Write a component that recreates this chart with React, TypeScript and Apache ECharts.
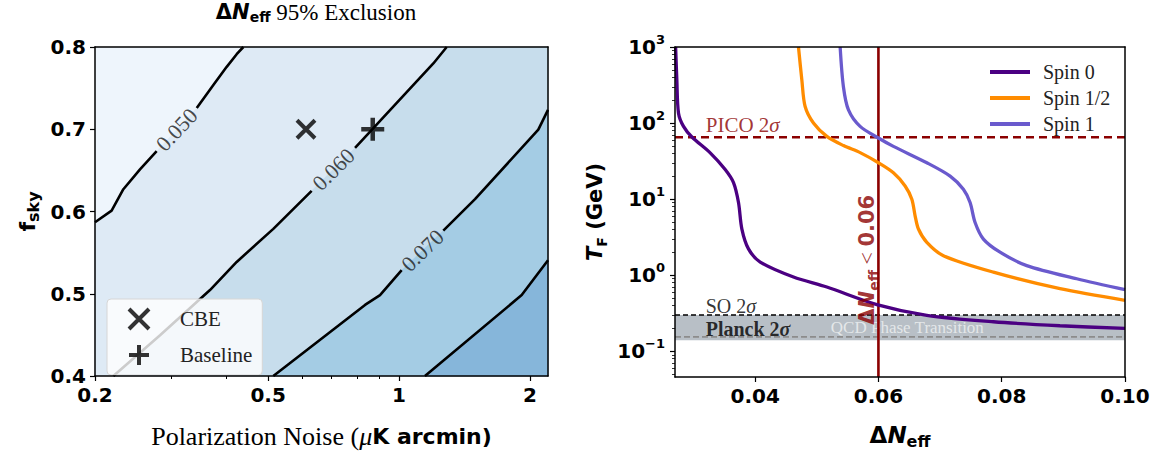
import React, { useEffect, useRef } from "react";
import * as echarts from "echarts";

const SANS = '"DejaVu Sans", sans-serif';
const SERIF = '"Liberation Serif", "DejaVu Serif", serif';
const L = (v: number) => Math.log10(v);

// ---------- Left panel data ----------
const noiseRange = [0.2, 2.2];
const fskyRange = [0.4, 0.8];
const noiseTicks = [0.2, 0.5, 1, 2];
const noiseMinorTicks = [0.3, 0.4, 0.6, 0.7, 0.8, 0.9];
const fskyTicks = [0.4, 0.5, 0.6, 0.7, 0.8];

const contourLevels = ["0.050", "0.060", "0.070", "0.080"];
const contour050 = [[0.4386, 0.8], [0.4234, 0.7912], [0.4016, 0.7759], [0.3742, 0.7538], [0.3427, 0.7257], [0.2772, 0.6733], [0.2538, 0.6513], [0.2324, 0.6271], [0.2184, 0.601], [0.2, 0.5869]];
const contour060 = [[1.287, 0.8], [1.199, 0.78], [0.8697, 0.7004], [0.7922, 0.6774], [0.6296, 0.6251], [0.514, 0.5789], [0.4234, 0.5387], [0.3676, 0.5045], [0.2822, 0.4495], [0.2204, 0.4]];
const contour070 = [[2.2, 0.7236], [2.09, 0.6995], [1.495, 0.615], [1.264, 0.5768], [1.014, 0.5286], [0.9042, 0.4984], [0.8352, 0.4864], [0.514, 0.4]];
const contour080 = [[2.2, 0.5407], [1.914, 0.4984], [1.147, 0.4]];
const contourLabelGap = [4, 3, 3, -1];
const contourLabelAt = [[0.3083, 0.6995], [0.7065, 0.6513], [1.132, 0.5527]];
const contourLabelAngle = [47, 45, 44];
const regionColors = ["#eef5fc", "#deeaf5", "#c7ddec", "#a4cce4", "#86b6da"];
const cbePoint = [0.611, 0.7];
const baselinePoint = [0.87, 0.7];

// ---------- Right panel data ----------
const dNRange = [0.027, 0.1];
const tfRange = [0.046, 1000];
const dNTicks = [0.04, 0.06, 0.08, 0.1];
const tfTicks = [0.1, 1, 10, 100, 1000];
const tfMinorTicks = [0.05, 0.06, 0.07, 0.08, 0.09, 0.2, 0.3, 0.4, 0.5, 0.6, 0.7, 0.8, 0.9, 2, 3, 4, 5, 6, 7, 8, 9, 20, 30, 40, 50, 60, 70, 80, 90, 200, 300, 400, 500, 600, 700, 800, 900];
const spinNames = ["Spin 0", "Spin 1/2", "Spin 1"];
const spinColors = ["#4b0082", "#ff8c00", "#6a5acd"];
const spin0 = [[0.0271, 1000], [0.0273, 367], [0.02757, 135], [0.02838, 90.4], [0.02974, 65.6], [0.03271, 40.6], [0.03514, 24.5], [0.03649, 16.5], [0.0373, 9.04], [0.03785, 4.05], [0.03892, 2.22], [0.04082, 1.49], [0.04622, 0.947], [0.05163, 0.7], [0.05974, 0.412], [0.06785, 0.298], [0.07865, 0.245], [0.08946, 0.217], [0.1, 0.2]];
const spinHalf = [[0.04703, 1000], [0.04758, 367], [0.04811, 165], [0.04946, 100], [0.05163, 66.8], [0.05434, 50.6], [0.05703, 40.9], [0.06, 30.1], [0.06243, 22.2], [0.06433, 14.9], [0.06542, 9.97], [0.06595, 6.04], [0.06649, 4.05], [0.06785, 2.71], [0.07054, 1.81], [0.07865, 1.1], [0.08946, 0.667], [0.1, 0.469]];
const spin1 = [[0.05379, 1000], [0.05432, 301], [0.05514, 149], [0.05703, 90.4], [0.06, 63.7], [0.06243, 49.4], [0.06785, 30.1], [0.07163, 20.1], [0.07378, 13.5], [0.07487, 9.04], [0.07568, 4.94], [0.07703, 2.99], [0.07973, 2.01], [0.08406, 1.34], [0.09217, 0.9], [0.1, 0.647]];
const picoLimit = 65;
const soLimit = 0.3;
const planckLimit = 0.155;
const qcdBand = [0.14, 0.3];
const dNBound = 0.06;
const picoText = [0.0319, 93];
const soText = [0.0319, 0.395];
const planckText = [0.0319, 0.198];
const qcdText = [0.0522, 0.205];
const boundText = [0.0581, 1.6];

const lx = (p: number[]) => [L(p[0]), p[1]];
const ry = (p: number[]) => [p[0], L(p[1])];

function buildOption(): any {
  const contours = [contour050, contour060, contour070, contour080];
  const [xLo, xHi] = noiseRange;
  const [yLo, yHi] = fskyRange;
  const regionPolys = [
    [[xLo, yHi], [xHi, yHi], [xHi, yLo], [xLo, yLo]],
    [...contour050, [xLo, yLo], [xHi, yLo], [xHi, yHi]],
    [...contour060, [xHi, yLo], [xHi, yHi]],
    [...contour070, [xHi, yLo]],
    [...contour080, [xHi, yLo]],
  ];

  const frameLine = { show: true, onZero: false, lineStyle: { color: "#000", width: 1.5 } };
  const tickLabel = { fontFamily: SANS, fontWeight: "bold", fontSize: 20, color: "#000" };
  const sub = (fs: number, extra: any = {}) => ({ fontFamily: SANS, fontWeight: "bold", fontSize: fs, lineHeight: 28, verticalAlign: "bottom", color: "#000", ...extra });
  const main = (fs: number, extra: any = {}) => ({ fontFamily: SANS, fontWeight: "bold", fontSize: fs, lineHeight: 28, verticalAlign: "middle", color: "#000", ...extra });

  const series: any[] = [];

  // Left: filled contour regions
  series.push({
    type: "custom",
    xAxisIndex: 0,
    yAxisIndex: 0,
    z: 1,
    silent: true,
    data: regionPolys.map((poly, i) => [L(poly[0][0]), poly[0][1], i]),
    encode: { x: 0, y: 1 },
    renderItem: (params: any, api: any) => {
      const i = params.dataIndex;
      const pts = regionPolys[i].map((p) => api.coord([L(p[0]), p[1]]));
      return { type: "polygon", shape: { points: pts }, style: { fill: regionColors[i], stroke: regionColors[i], lineWidth: 0.5 } };
    },
  });

  // Left: contour lines (split at inline labels)
  contours.forEach((c, k) => {
    const g = contourLabelGap[k];
    const parts = g >= 0 ? [c.slice(0, g + 1), c.slice(g + 1)] : [c];
    parts.forEach((part) => {
      series.push({
        type: "line",
        xAxisIndex: 0,
        yAxisIndex: 0,
        z: 3,
        silent: true,
        symbol: "none",
        data: part.map(lx),
        lineStyle: { color: "#000", width: 2.6 },
      });
    });
  });

  // Left: contour labels
  series.push({
    type: "scatter",
    xAxisIndex: 0,
    yAxisIndex: 0,
    z: 4,
    silent: true,
    symbolSize: 1,
    itemStyle: { color: "rgba(0,0,0,0)" },
    data: contourLabelAt.map((p, i) => ({
      value: lx(p),
      label: {
        show: true,
        position: "inside",
        formatter: contourLevels[i],
        rotate: contourLabelAngle[i],
        fontFamily: SERIF,
        fontSize: 22,
        color: "#1a1a1a",
      },
    })),
  });

  // Left: markers
  series.push({
    name: "CBE",
    type: "scatter",
    xAxisIndex: 0,
    yAxisIndex: 0,
    z: 5,
    symbol: "path://M0,0L10,10M10,0L0,10",
    symbolSize: 18,
    itemStyle: { color: "#000", borderColor: "#000", borderWidth: 4 },
    data: [lx(cbePoint)],
  });
  series.push({
    name: "Baseline",
    type: "scatter",
    xAxisIndex: 0,
    yAxisIndex: 0,
    z: 5,
    symbol: "path://M5,0L5,10M0,5L10,5",
    symbolSize: 23,
    itemStyle: { color: "#000", borderColor: "#000", borderWidth: 4.5 },
    data: [lx(baselinePoint)],
  });

  // Right: QCD band
  series.push({
    type: "custom",
    xAxisIndex: 3,
    yAxisIndex: 2,
    z: 1,
    silent: true,
    data: [[dNRange[0], L(qcdBand[0])]],
    encode: { x: 0, y: 1 },
    renderItem: (params: any, api: any) => {
      const a = api.coord([dNRange[0], L(qcdBand[1])]);
      const b = api.coord([dNRange[1], L(qcdBand[0])]);
      return { type: "rect", shape: { x: a[0], y: a[1], width: b[0] - a[0], height: b[1] - a[1] }, style: { fill: "#b8bfc6" } };
    },
  });

  const hLine = (y: number, color: string, width: number, dash: number[]) => ({
    type: "line",
    xAxisIndex: 3,
    yAxisIndex: 2,
    z: 2,
    silent: true,
    symbol: "none",
    data: [ry([dNRange[0], y]), ry([dNRange[1], y])],
    lineStyle: { color, width, type: dash },
  });
  series.push(hLine(planckLimit, "#8c8c8c", 1.6, [6, 3]));
  series.push(hLine(soLimit, "#000", 1.6, [5, 3]));
  series.push(hLine(picoLimit, "#8b0000", 2.6, [8, 5]));

  // Right: texts
  const txt = (p: number[], label: any) => ({ value: ry(p), label: { show: true, ...label } });
  const serifRich = (fs: number, color: string, weight: string) => ({
    n: { fontFamily: SERIF, fontSize: fs, lineHeight: fs, fontWeight: weight, color },
    i: { fontFamily: SERIF, fontStyle: "italic", fontSize: fs, lineHeight: fs, fontWeight: weight, color },
  });
  series.push({
    type: "scatter",
    xAxisIndex: 3,
    yAxisIndex: 2,
    z: 2,
    silent: true,
    symbolSize: 1,
    itemStyle: { color: "rgba(0,0,0,0)" },
    data: [
      txt(picoText, { position: "right", distance: 0, formatter: "{n|PICO 2}{i|σ}", rich: serifRich(21, "#8b0000", "normal") }),
      txt(soText, { position: "right", distance: 0, formatter: "{n|SO 2}{i|σ}", rich: serifRich(20, "#000", "normal") }),
      txt(planckText, { position: "right", distance: 0, formatter: "{n|Planck 2}{i|σ}", rich: serifRich(20, "#000", "bold") }),
      txt(qcdText, {
        position: "right", distance: 0, formatter: "QCD Phase Transition",
        fontFamily: SERIF, fontSize: 17, lineHeight: 17, color: "rgba(255,255,255,0.8)",
      }),
    ],
  });

  // Right: vertical bound
  series.push({
    type: "line",
    xAxisIndex: 3,
    yAxisIndex: 2,
    z: 3,
    silent: true,
    symbol: "none",
    data: [[dNBound, L(tfRange[0])], [dNBound, L(tfRange[1])]],
    lineStyle: { color: "#8b0000", width: 2.6 },
  });

  // Right: spin curves
  [spin0, spinHalf, spin1].forEach((d, i) => {
    series.push({
      name: spinNames[i],
      type: "line",
      xAxisIndex: 3,
      yAxisIndex: 2,
      z: 4,
      symbol: "none",
      smooth: 0.3,
      data: d.map(ry),
      itemStyle: { color: spinColors[i] },
      lineStyle: { color: spinColors[i], width: 3.3 },
    });
  });

  // Right: rotated bound label
  series.push({
    type: "scatter",
    xAxisIndex: 3,
    yAxisIndex: 2,
    z: 5,
    silent: true,
    symbolSize: 1,
    itemStyle: { color: "rgba(0,0,0,0)" },
    data: [
      txt(boundText, {
        position: "inside",
        rotate: 90,
        formatter: "{d|Δ}{n|N}{s|eff}{r| < }{d|0.06}",
        rich: {
          d: main(21, { color: "#8b0000" }),
          n: main(21, { color: "#8b0000", fontStyle: "italic" }),
          s: sub(14, { color: "#8b0000" }),
          r: main(22, { color: "#8b0000", fontFamily: SERIF, fontWeight: "normal" }),
        },
      }),
    ],
  });

  const baseAxis = { splitLine: { show: false }, z: 10 };

  return {
    animation: false,
    backgroundColor: "#fff",
    title: {
      left: 316,
      top: 0,
      padding: 0,
      textAlign: "center",
      text: "{d|Δ}{n|N}{s|eff}{r| 95% Exclusion}",
      textStyle: {
        rich: {
          d: main(21, { lineHeight: 24 }),
          n: main(21, { lineHeight: 24, fontStyle: "italic" }),
          s: sub(14, { lineHeight: 24 }),
          r: main(23, { lineHeight: 24, fontFamily: SERIF, fontWeight: "normal" }),
        },
      },
    },
    legend: [
      {
        data: ["CBE", "Baseline"],
        orient: "vertical",
        left: 107,
        top: 299,
        padding: [8, 10, 8, 20],
        itemWidth: 20,
        itemHeight: 20,
        itemGap: 12,
        backgroundColor: "rgba(255,255,255,0.8)",
        borderColor: "#d6d6d6",
        borderWidth: 1,
        borderRadius: 4,
        selectedMode: false,
        itemStyle: { color: "#000", borderColor: "#000", borderWidth: 4 },
        textStyle: { fontFamily: SERIF, fontSize: 21, color: "#222", padding: [0, 0, 0, 26] },
      },
      {
        data: spinNames,
        orient: "vertical",
        left: 990,
        top: 62,
        padding: 0,
        icon: "rect",
        itemWidth: 40,
        itemHeight: 4,
        itemGap: 6,
        selectedMode: false,
        itemStyle: { borderWidth: 0 },
        textStyle: { fontFamily: SERIF, fontSize: 20, color: "#222", lineHeight: 20, padding: [0, 0, 0, 8] },
      },
    ],
    grid: [
      { left: 95, top: 47, width: 453, height: 331, containLabel: false },
      { left: 675, top: 47, width: 450, height: 331, containLabel: false },
    ],
    xAxis: [
      {
        ...baseAxis,
        gridIndex: 0,
        type: "value",
        position: "bottom",
        min: L(noiseRange[0]),
        max: L(noiseRange[1]),
        axisLine: frameLine,
        axisTick: { show: true, customValues: noiseTicks.map(L), length: 5, lineStyle: { color: "#000", width: 1.2 } },
        axisLabel: {
          ...tickLabel,
          margin: 9,
          customValues: noiseTicks.map(L),
          formatter: (v: number) => String(parseFloat(Math.pow(10, v).toPrecision(3))),
        },
        name: "{r|Polarization Noise (}{m|μ}{b|K arcmin)}",
        nameLocation: "middle",
        nameGap: 46,
        nameTextStyle: {
          rich: {
            r: main(26, { fontFamily: SERIF, fontWeight: "normal" }),
            m: main(26, { fontFamily: SERIF, fontWeight: "normal", fontStyle: "italic" }),
            b: main(22),
          },
        },
      },
      {
        ...baseAxis,
        gridIndex: 0,
        type: "value",
        position: "bottom",
        min: L(noiseRange[0]),
        max: L(noiseRange[1]),
        axisLine: { show: false, onZero: false },
        axisTick: { show: true, customValues: noiseMinorTicks.map(L), length: 3, lineStyle: { color: "#000", width: 1 } },
        axisLabel: { show: false },
      },
      {
        ...baseAxis,
        gridIndex: 0,
        type: "value",
        position: "top",
        min: L(noiseRange[0]),
        max: L(noiseRange[1]),
        axisLine: frameLine,
        axisTick: { show: false },
        axisLabel: { show: false },
      },
      {
        ...baseAxis,
        gridIndex: 1,
        type: "value",
        position: "bottom",
        min: dNRange[0],
        max: dNRange[1],
        axisLine: frameLine,
        axisTick: { show: true, customValues: dNTicks, length: 5, lineStyle: { color: "#000", width: 1.2 } },
        axisLabel: { ...tickLabel, margin: 9, customValues: dNTicks, formatter: (v: number) => v.toFixed(2) },
        name: "{d|Δ}{n|N}{s|eff}",
        nameLocation: "middle",
        nameGap: 44,
        nameTextStyle: {
          rich: { d: main(23), n: main(23, { fontStyle: "italic" }), s: sub(16) },
        },
      },
      {
        ...baseAxis,
        gridIndex: 1,
        type: "value",
        position: "top",
        min: dNRange[0],
        max: dNRange[1],
        axisLine: frameLine,
        axisTick: { show: false },
        axisLabel: { show: false },
      },
    ],
    yAxis: [
      {
        ...baseAxis,
        gridIndex: 0,
        type: "value",
        position: "left",
        min: fskyRange[0],
        max: fskyRange[1],
        axisLine: frameLine,
        axisTick: { show: true, customValues: fskyTicks, length: 5, lineStyle: { color: "#000", width: 1.2 } },
        axisLabel: { ...tickLabel, margin: 9, customValues: fskyTicks, formatter: (v: number) => v.toFixed(1) },
        name: "{b|f}{s|sky}",
        nameLocation: "middle",
        nameGap: 54,
        nameTextStyle: { rich: { b: main(22), s: sub(16) } },
      },
      {
        ...baseAxis,
        gridIndex: 0,
        type: "value",
        position: "right",
        min: fskyRange[0],
        max: fskyRange[1],
        axisLine: frameLine,
        axisTick: { show: false },
        axisLabel: { show: false },
      },
      {
        ...baseAxis,
        gridIndex: 1,
        type: "value",
        position: "left",
        min: L(tfRange[0]),
        max: L(tfRange[1]),
        axisLine: frameLine,
        axisTick: { show: true, customValues: tfTicks.map(L), length: 5, lineStyle: { color: "#000", width: 1.2 } },
        axisLabel: {
          margin: 10,
          customValues: tfTicks.map(L),
          formatter: (v: number) => {
            const e = Math.round(v);
            return "{b|10}{p|" + (e < 0 ? "−" + -e : String(e)) + "}";
          },
          rich: {
            b: { fontFamily: SANS, fontWeight: "bold", fontSize: 20, lineHeight: 28, verticalAlign: "middle", color: "#000" },
            p: { fontFamily: SANS, fontWeight: "bold", fontSize: 13, lineHeight: 28, verticalAlign: "top", color: "#000" },
          },
        },
        name: "{i|T}{s|F}{b| (GeV)}",
        nameLocation: "middle",
        nameGap: 66,
        nameTextStyle: { rich: { i: main(21, { fontStyle: "italic" }), s: sub(14), b: main(21) } },
      },
      {
        ...baseAxis,
        gridIndex: 1,
        type: "value",
        position: "left",
        min: L(tfRange[0]),
        max: L(tfRange[1]),
        axisLine: { show: false, onZero: false },
        axisTick: { show: true, customValues: tfMinorTicks.map(L), length: 3, lineStyle: { color: "#000", width: 0.8 } },
        axisLabel: { show: false },
      },
      {
        ...baseAxis,
        gridIndex: 1,
        type: "value",
        position: "right",
        min: L(tfRange[0]),
        max: L(tfRange[1]),
        axisLine: frameLine,
        axisTick: { show: false },
        axisLabel: { show: false },
      },
    ],
    series,
  };
}

export default function App() {
  const ref = useRef<HTMLDivElement>(null);
  useEffect(() => {
    const chart = echarts.init(ref.current!, null, { renderer: "svg" });
    chart.setOption(buildOption());
    return () => chart.dispose();
  }, []);
  return (
    <div
      ref={ref}
      style={{ position: "absolute", left: 0, top: 0, width: 1156, height: 454, background: "#fff" }}
    />
  );
}
